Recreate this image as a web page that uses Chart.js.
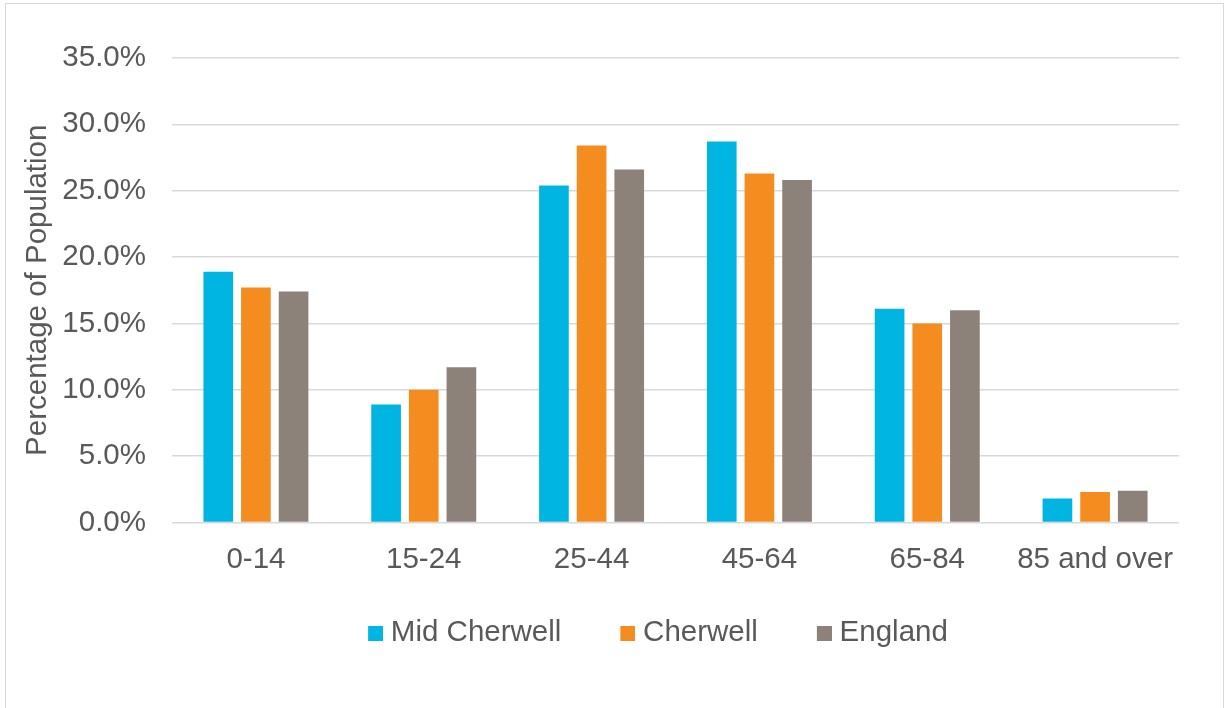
<!DOCTYPE html>
<html lang="en">

<head>
    <meta charset="UTF-8">
    <title>Population by Age</title>
    <script src="https://cdn.jsdelivr.net/npm/chart.js"></script>
    <style>
        body { margin: 0; background: #ffffff; }
        .frame { position: absolute; left: 5px; top: 3px; width: 1217px; height: 720px; border: 1px solid #d9d9d9; }
        .chart-box { position: absolute; left: 0; top: 0; width: 1224px; height: 708px; }
    </style>
</head>

<body>
    <div class="frame"></div>
    <div class="chart-box">
        <canvas id="age-chart"></canvas>
    </div>

    <script>
        // Age bands and shares (percent of population)
        const ageBands = ['0-14', '15-24', '25-44', '45-64', '65-84', '85 and over'];
        const midCherwell = [18.9, 8.9, 25.4, 28.7, 16.1, 1.8];
        const cherwell = [17.7, 10.0, 28.4, 26.3, 15.0, 2.3];
        const england = [17.4, 11.7, 26.6, 25.8, 16.0, 2.4];
        const yTicks = [0, 5, 10, 15, 20, 25, 30, 35];

        const colours = ['#00b5e2', '#f58c20', '#8c8279'];
        const textGrey = '#595959';
        const font = { family: "'Liberation Sans', Arial, sans-serif", size: 29.5 };

        // legend marker: square at the right edge of a wider transparent image,
        // so it sits close to its label like in Excel
        const legendMark = colour => {
            const c = document.createElement('canvas');
            c.width = 61;
            c.height = 15;
            const g = c.getContext('2d');
            g.fillStyle = colour;
            g.fillRect(46, 0, 15, 15);
            return c;
        };
        const legendMarks = colours.map(legendMark);

        // nudge the legend row to the right, Excel does not centre it on the canvas
        const legendShift = {
            id: 'legendShift',
            afterLayout: chart => {
                chart.legend.left += 49;
                chart.legend.right += 49;
            }
        };

        const bars = (label, data, colour) => ({
            label: label,
            data: data,
            backgroundColor: colour,
            borderWidth: 0,
            categoryPercentage: 0.673,
            barPercentage: 0.788
        });

        new Chart(document.getElementById('age-chart'), {
            type: 'bar',
            data: {
                labels: ageBands,
                datasets: [
                    bars('Mid Cherwell', midCherwell, colours[0]),
                    bars('Cherwell', cherwell, colours[1]),
                    bars('England', england, colours[2])
                ]
            },
            plugins: [legendShift],
            options: {
                responsive: true,
                maintainAspectRatio: false,
                animation: false,
                layout: { padding: { left: 0, right: 45, top: 58, bottom: 50.25 } },
                plugins: {
                    tooltip: { enabled: false },
                    legend: {
                        position: 'bottom',
                        labels: {
                            color: textGrey,
                            font: font,
                            usePointStyle: true,
                            pointStyleWidth: 47,
                            padding: 20,
                            generateLabels: chart => {
                                const items = Chart.defaults.plugins.legend.labels.generateLabels(chart);
                                items.forEach((item, i) => { item.pointStyle = legendMarks[i]; });
                                return items;
                            }
                        }
                    }
                },
                scales: {
                    x: {
                        afterFit: scale => { scale.height = 75.75; },
                        grid: { display: false, drawTicks: false },
                        border: { display: false },
                        ticks: { color: textGrey, font: font, padding: 19.8, maxRotation: 0 }
                    },
                    y: {
                        min: 0,
                        max: 35,
                        afterFit: scale => { scale.width = 172; },
                        afterBuildTicks: scale => { scale.ticks = yTicks.map(v => ({ value: v })); },
                        grid: { color: '#d9d9d9', lineWidth: 1.5, drawTicks: false },
                        border: { display: false },
                        ticks: {
                            color: textGrey,
                            font: font,
                            padding: 26,
                            callback: v => v.toFixed(1) + '%'
                        },
                        title: {
                            display: true,
                            text: 'Percentage of Population',
                            color: textGrey,
                            font: font,
                            padding: { top: 20.3, bottom: 0 }
                        }
                    }
                }
            }
        });
    </script>
</body>

</html>
